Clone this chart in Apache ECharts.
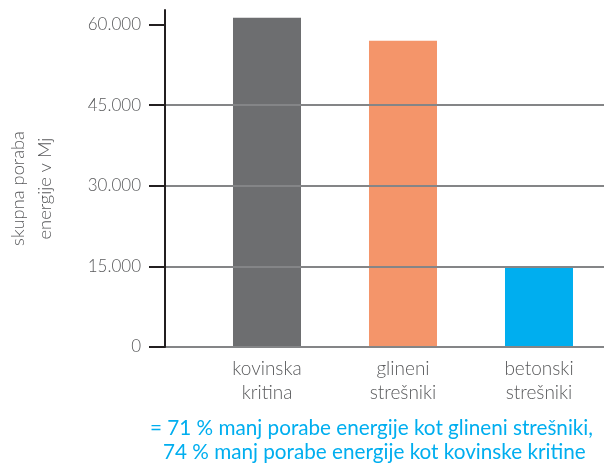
<!DOCTYPE html>
<html>
<head>
<meta charset="utf-8">
<script src="https://cdn.jsdelivr.net/npm/echarts@6/dist/echarts.min.js"></script>
<style>
  html, body { margin: 0; padding: 0; background: #fff; }
  #chart { width: 604px; height: 463px; }
</style>
</head>
<body>
<div id="chart"></div>
<script>
// kategorije in vrednosti (MJ)
const categories = ['kovinska\nkritina', 'glineni\nstrešniki', 'betonski\nstrešniki'];
const values = [61250, 57000, 14900];
const barColors = ['#6d6e70', '#f4956a', '#00aeef'];
const yTicks = [0, 15000, 30000, 45000, 60000];
const yName = 'skupna poraba\nenergije v Mj';
const note = ['= 71 % manj porabe energije kot glineni strešniki,', '74 % manj porabe energije kot kovinske kritine'];

const font = 'Lato';
const dark = '#231f20';
const grey = '#58595b';

const chart = echarts.init(document.getElementById('chart'));

chart.setOption({
  animation: false,
  grid: { left: 165, right: 0, top: 10, bottom: 116, outerBoundsMode: 'none' },
  xAxis: {
    type: 'value',
    min: 0.25,
    max: 3.478,
    axisLine: { show: true, lineStyle: { color: dark, width: 2 } },
    axisTick: { show: false },
    splitLine: { show: false },
    axisLabel: {
      customValues: [1, 2, 3],
      formatter: v => categories[Math.round(v) - 1] || '',
      color: grey,
      fontFamily: font,
      fontWeight: 300,
      fontSize: 19,
      lineHeight: 24,
      margin: 10
    }
  },
  yAxis: {
    type: 'value',
    min: 0,
    max: 62700,
    interval: 15000,
    z: 3,
    name: yName,
    nameLocation: 'middle',
    nameGap: 106,
    nameRotate: 90,
    nameTextStyle: {
      color: grey,
      fontFamily: font,
      fontWeight: 300,
      fontSize: 18.3,
      lineHeight: 27,
      padding: [0, 20, 0, 0]
    },
    axisLine: { show: true, lineStyle: { color: dark, width: 2 } },
    axisTick: {
      show: true,
      length: 16,
      customValues: yTicks,
      lineStyle: { color: dark, width: 2 }
    },
    axisLabel: {
      customValues: yTicks,
      formatter: v => v === 0 ? '0' : (v / 1000).toFixed(0) + '.000',
      color: grey,
      fontFamily: font,
      fontWeight: 300,
      fontSize: 17,
      margin: 24
    },
    splitLine: {
      show: true,
      showMaxLine: false,
      lineStyle: { color: '#848587', width: 2 }
    }
  },
  series: [{
    type: 'bar',
    barWidth: 68,
    data: values.map((v, i) => ({
      value: [i + 1, v],
      itemStyle: { color: barColors[i] }
    }))
  }],
  graphic: note.map((t, i) => ({
    type: 'text',
    left: i === 0 ? 150 : 163,
    top: 418 + i * 24,
    style: {
      text: t,
      fill: '#00aeef',
      font: '400 20.7px ' + font
    }
  }))
});
</script>
</body>
</html>
